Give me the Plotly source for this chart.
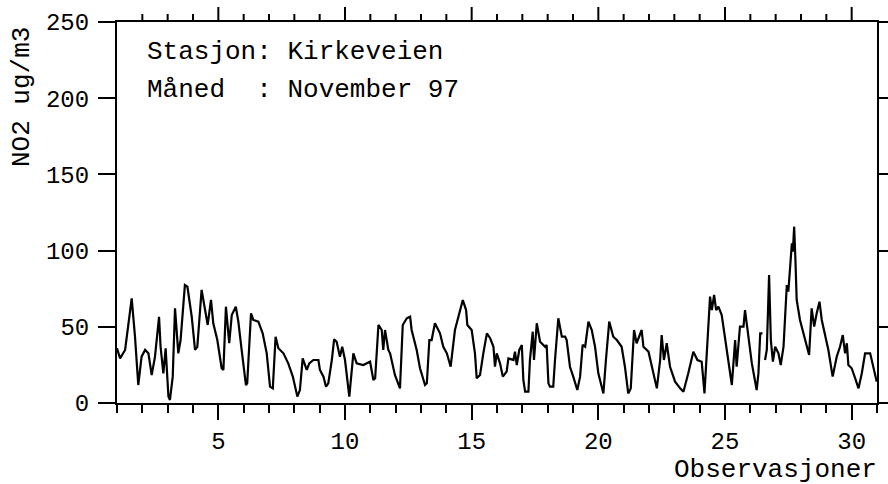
import plotly.graph_objects as go

# Day-of-month (x) and NO2 concentration in ug/m3 (y)
days = [1.00, 1.12, 1.32, 1.58, 1.71, 1.84, 1.97, 2.11, 2.24, 2.37, 2.50, 2.66, 2.72, 2.83, 2.92,
        3.03, 3.09, 3.20, 3.29, 3.42, 3.51, 3.68, 3.78, 3.95, 4.08, 4.17, 4.34, 4.47, 4.58, 4.71,
        4.80, 4.96, 5.13, 5.20, 5.30, 5.43, 5.53, 5.69, 5.79, 5.92, 6.09, 6.14, 6.29, 6.38, 6.58,
        6.75, 6.91, 7.04, 7.15, 7.26, 7.37, 7.57, 7.76, 7.94, 8.12, 8.22, 8.33, 8.49, 8.59, 8.75,
        8.95, 9.01, 9.15, 9.25, 9.34, 9.48, 9.57, 9.67, 9.80, 9.89, 10.00, 10.17, 10.22, 10.33, 10.46,
        10.72, 10.99, 11.12, 11.19, 11.32, 11.45, 11.51, 11.58, 11.71, 11.78, 11.97, 12.17, 12.28, 12.44,
        12.57, 12.63, 12.83, 12.96, 13.16, 13.23, 13.33, 13.42, 13.55, 13.75, 13.88, 14.02, 14.17, 14.34,
        14.47, 14.65, 14.78, 14.83, 15.00, 15.13, 15.20, 15.33, 15.46, 15.60, 15.73, 15.86, 15.92, 15.99,
        16.12, 16.23, 16.38, 16.45, 16.65, 16.71, 16.78, 16.88, 16.98, 17.04, 17.11, 17.24, 17.30, 17.41,
        17.46, 17.57, 17.70, 17.90, 17.96, 18.03, 18.09, 18.22, 18.29, 18.42, 18.56, 18.69, 18.75, 18.88,
        19.01, 19.17, 19.28, 19.38, 19.48, 19.61, 19.74, 19.87, 20.00, 20.20, 20.30, 20.43, 20.59, 20.73,
        20.92, 21.05, 21.18, 21.28, 21.41, 21.51, 21.71, 21.78, 21.98, 22.11, 22.31, 22.44, 22.50, 22.59,
        22.70, 22.83, 23.03, 23.23, 23.36, 23.55, 23.75, 23.91, 24.08, 24.19, 24.41, 24.48, 24.57, 24.65,
        24.74, 24.87, 25.07, 25.17, 25.27, 25.40, 25.46, 25.59, 25.73, 25.79, 25.92, 26.06, 26.25, 26.32,
        26.39, 26.48, 26.53, 26.58, 26.65, 26.74, 26.81, 26.89, 26.98, 27.11, 27.20, 27.31, 27.44, 27.50,
        27.57, 27.64, 27.68, 27.73, 27.78, 27.83, 27.96, 28.10, 28.23, 28.32, 28.42, 28.52, 28.62, 28.73,
        28.82, 28.95, 29.08, 29.25, 29.41, 29.54, 29.65, 29.74, 29.81, 29.87, 30.00, 30.14, 30.27, 30.40,
        30.53, 30.73, 30.86, 30.99]

no2 = [35.9, 29.3, 34.8, 68.7, 43.5, 11.8, 30.4, 34.8, 32.6, 18.4, 30.4, 56.6, 36.9, 19.5, 35.9,
       4.2, 2.0, 17.3, 62.1, 32.6, 41.3, 77.4, 76.3, 56.6, 34.8, 36.9, 74.2, 62.1, 51.2, 67.6,
       52.3, 41.3, 22.8, 21.7, 63.2, 39.2, 57.7, 63.2, 53.4, 34.8, 11.8, 12.9, 58.9, 54.5, 53.4,
       45.7, 32.6, 10.7, 9.6, 43.5, 35.9, 32.6, 26.0, 17.3, 4.2, 8.5, 29.3, 21.7, 26.0, 28.2,
       28.2, 21.7, 17.3, 10.7, 12.9, 28.2, 41.8, 40.2, 30.4, 36.9, 28.2, 4.2, 12.9, 32.6, 26.0,
       24.9, 27.1, 15.1, 16.2, 51.2, 47.9, 34.8, 47.9, 34.8, 32.6, 18.4, 9.6, 51.2, 55.6,
       56.6, 47.9, 34.8, 22.8, 11.8, 12.9, 41.3, 41.3, 52.3, 45.7, 36.9, 32.6, 23.8, 47.9,
       56.6, 67.6, 61.0, 51.2, 47.9, 32.6, 16.2, 18.4, 32.6, 45.7, 42.5, 36.9, 23.8, 32.6,
       26.0, 17.3, 20.6, 29.3, 28.2, 33.7, 24.9, 34.8, 38.1, 15.1, 7.4, 7.4, 28.2, 46.8,
       28.2, 52.3, 40.2, 36.9, 38.1, 12.9, 10.7, 10.7, 28.2, 55.6, 43.5, 43.5, 41.3, 23.8,
       17.3, 8.5, 17.3, 38.1, 36.9, 53.4, 47.9, 36.9, 19.5, 6.3, 28.2, 53.4, 43.5, 41.3,
       36.9, 23.8, 6.3, 9.6, 47.9, 39.2, 47.9, 36.9, 33.7, 23.8, 9.6, 28.2, 44.6, 28.2,
       39.2, 23.8, 14.0, 9.6, 7.4, 19.5, 33.7, 28.2, 27.1, 6.3, 69.8, 61.0, 70.9, 61.0,
       63.2, 57.7, 35.9, 21.7, 11.8, 41.3, 23.8, 50.1, 50.1, 61.0, 45.7, 26.0, 8.5, 19.5,
       45.7, 45.7, None, 28.2, 34.8, 84.0, 41.3, 27.1, 36.9, 32.6, 24.9, 36.9, 77.4, 73.1,
       89.5, 104.8, 99.3, 115.7, 93.8, 67.6, 54.5, 45.7, 36.9, 31.5, 62.1, 50.1, 58.9, 66.5,
       54.5, 43.5, 34.8, 17.3, 30.4, 36.9, 44.6, 32.6, 39.2, 24.9, 22.8, 16.2, 9.6, 19.5,
       32.6, 32.6, 23.8, 14.0]

x_ticks = [5, 10, 15, 20, 25, 30]
day_ticks = list(range(2, 31))
y_ticks = [0, 50, 100, 150, 200, 250]
station_text = "Stasjon: Kirkeveien"
month_text = "Måned  : November 97"
x_title = "Observasjoner"
y_title = "NO2 ug/m3"

FONT = "Liberation Mono, Courier New, monospace"

fig = go.Figure()
fig.add_trace(go.Scatter(x=days, y=no2, mode="lines",
                         line=dict(color="black", width=2.2), connectgaps=False,
                         hoverinfo="skip", showlegend=False))

fig.update_layout(
    width=888, height=484,
    margin=dict(l=117, r=11, t=22, b=81, autoexpand=False),
    paper_bgcolor="white", plot_bgcolor="white",
    font=dict(family=FONT, color="black", size=24),
    showlegend=False,
    xaxis=dict(
        range=[1, 31], tickvals=x_ticks, ticktext=[str(v) for v in x_ticks],
        ticks="outside", ticklen=15, tickwidth=2, tickcolor="black",
        minor=dict(dtick=1, tick0=1, ticks="outside", ticklen=8, tickwidth=2,
                   tickcolor="black", showgrid=False),
        showline=True, linewidth=2, linecolor="black", mirror=True,
        showgrid=False, zeroline=False, automargin=False,
        tickfont=dict(family=FONT, size=24, color="black"),
    ),
    yaxis=dict(
        range=[0, 250], tickvals=y_ticks, ticktext=[str(v) for v in y_ticks],
        ticks="outside", ticklen=17, tickwidth=2, tickcolor="black",
        showline=True, linewidth=2, linecolor="black", mirror="ticks",
        showgrid=False, zeroline=False, automargin=False, ticklabelstandoff=4,
        tickfont=dict(family=FONT, size=24, color="black"),
    ),
)

# tick marks along the top frame, placed through the x axis scale
for d in day_ticks:
    length = 15 if d in x_ticks else 8
    fig.add_shape(type="line", xref="x", yref="paper", ysizemode="pixel", yanchor=1,
                  x0=d, x1=d, y0=0, y1=length, layer="above",
                  line=dict(color="black", width=2))

fig.add_annotation(text=station_text, xref="paper", yref="paper", x=0.0368, y=0.921,
                   xanchor="left", yanchor="middle", showarrow=False,
                   font=dict(family=FONT, size=26, color="black"))
fig.add_annotation(text=month_text, xref="paper", yref="paper", x=0.0368, y=0.8215,
                   xanchor="left", yanchor="middle", showarrow=False,
                   font=dict(family=FONT, size=26, color="black"))
fig.add_annotation(text=x_title, xref="paper", yref="paper", x=1.0026, y=-0.176,
                   xanchor="right", yanchor="middle", showarrow=False,
                   font=dict(family=FONT, size=26, color="black"))
fig.add_annotation(text=y_title, xref="paper", yref="paper", x=-0.125, y=0.803,
                   xanchor="center", yanchor="middle", showarrow=False, textangle=-90,
                   font=dict(family=FONT, size=26, color="black"))

fig.write_html("out.html")
